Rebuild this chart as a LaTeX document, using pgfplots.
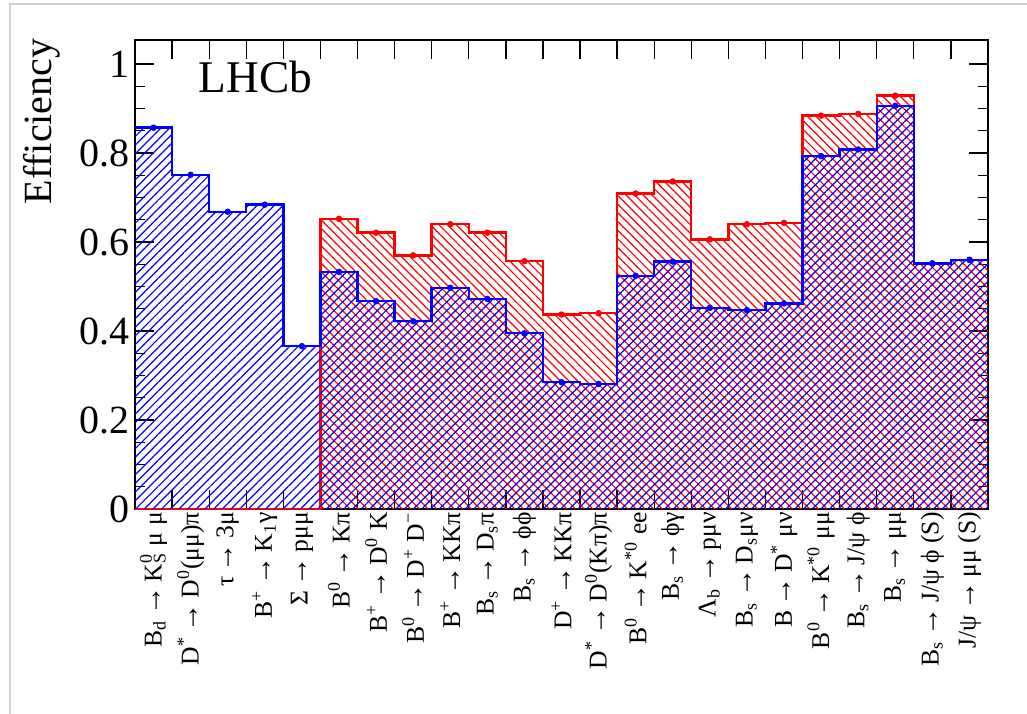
\documentclass[border=0pt]{standalone}
\usepackage{fontspec}
\setmainfont{Liberation Serif}
\usepackage{pgfplots}
\usepackage{pgfplotstable}
\pgfplotsset{compat=1.18}
\usetikzlibrary{patterns.meta}

% superscript / subscript helpers for decay labels
\newcommand{\su}[1]{\textsuperscript{#1}}
\newcommand{\sd}[1]{\textsubscript{#1}}
\newcommand{\supsub}[2]{\makebox[0pt][l]{\textsuperscript{#1}}\textsubscript{#2}}
\newcommand{\ar}{\,{\fontsize{11}{11}\selectfont →}\,}

% bin edges (left edge), efficiency of the two selections; last row closes the step
\pgfplotstableread{
x  blue   red
0  0.857  0
1  0.751  0
2  0.668  0
3  0.684  0
4  0.366  0
5  0.533  0.652
6  0.467  0.621
7  0.422  0.570
8  0.497  0.640
9  0.472  0.621
10 0.395  0.557
11 0.285  0.437
12 0.281  0.440
13 0.524  0.709
14 0.556  0.736
15 0.452  0.606
16 0.447  0.640
17 0.462  0.643
18 0.793  0.884
19 0.808  0.888
20 0.906  0.929
21 0.552  0.552
22 0.560  0.560
23 0.560  0.560
}\histdata

\begin{document}
\begin{tikzpicture}
\useasboundingbox (0,0) rectangle (385.125pt,-267.75pt);
\draw[gray!35, line width=0.4pt] (3.75pt,-267.75pt) -- (3.75pt,-1.5pt) -- (385.125pt,-1.5pt);

\node[rotate=90, anchor=east, inner sep=0pt, font=\fontsize{15}{18}\selectfont]
  at (15.75pt,-14.25pt) {Efficiency};

\begin{axis}[
  at={(50.625pt,-190.875pt)}, anchor=south west,
  scale only axis, width=319.875pt, height=175.875pt,
  xmin=0, xmax=23, ymin=0, ymax=1.054,
  axis line style={line width=0.55pt},
  tick style={black, line width=0.5pt},
  major tick length=7pt, minor tick length=3.7pt,
  xtick={0,...,23}, xticklabels={},
  extra x ticks={0.5,1.5,...,22.5},
  extra x tick style={major tick length=0pt,
    xticklabel style={rotate=90, anchor=east, inner sep=1pt,
      font=\fontsize{9.6}{10}\selectfont}},
  extra x tick labels={
    {B\sd{d}\ar K\supsub{0}{S} μ μ},
    {D\su{*}\ar D\su{0}(μμ)π},
    {τ\ar 3μ},
    {B\su{+}\ar K\sd{1}γ},
    {Σ\ar pμμ},
    {B\su{0}\ar Kπ},
    {B\su{+}\ar D\su{0} K},
    {B\su{0}\ar D\su{+} D\su{−}},
    {B\su{+}\ar KKπ},
    {B\sd{s}\ar D\sd{s}π},
    {B\sd{s}\ar ϕϕ},
    {D\su{+}\ar KKπ},
    {D\su{*}\ar D\su{0}(Kπ)π},
    {B\su{0}\ar K\su{*0} ee},
    {B\sd{s}\ar ϕγ},
    {Λ\sd{b}\ar pμν},
    {B\sd{s}\ar D\sd{s}μν},
    {B\ar D\su{*} μν},
    {B\su{0}\ar K\su{*0} μμ},
    {B\sd{s}\ar J/ψ ϕ},
    {B\sd{s}\ar μμ},
    {B\sd{s}\ar J/ψ ϕ (S)},
    {J/ψ\ar μμ (S)}},
  ytick={0,0.2,0.4,0.6,0.8,1},
  yticklabels={0,0.2,0.4,0.6,0.8,1},
  minor y tick num=3,
  yticklabel style={font=\fontsize{15}{18}\selectfont, inner sep=1pt, xshift=-1pt},
]
% second selection (red, hatched \\)
\addplot[draw=none, const plot,
  pattern={Lines[angle=-45, distance=2.3pt, line width=0.45pt]}, pattern color=red]
  table[x=x, y=red] {\histdata} \closedcycle;
\addplot[red, line width=0.9pt, const plot] table[x=x, y=red] {\histdata};
% first selection (blue, hatched //)
\addplot[draw=none, const plot,
  pattern={Lines[angle=45, distance=2.3pt, line width=0.45pt]}, pattern color=blue]
  table[x=x, y=blue] {\histdata} \closedcycle;
\addplot[blue, line width=0.9pt, const plot] table[x=x, y=blue] {\histdata};
% bin-centre markers
\addplot[only marks, red, mark=*, mark size=1pt,
  skip coords between index={0}{5}, skip coords between index={23}{24}]
  table[x expr=\thisrow{x}+0.5, y=red] {\histdata};
\addplot[only marks, blue, mark=*, mark size=1pt,
  skip coords between index={23}{24}]
  table[x expr=\thisrow{x}+0.5, y=blue] {\histdata};

\node[anchor=base west, inner sep=0pt, font=\fontsize{17}{20}\selectfont]
  at (axis cs:1.70,0.937) {LHCb};
\end{axis}
\end{tikzpicture}
\end{document}
